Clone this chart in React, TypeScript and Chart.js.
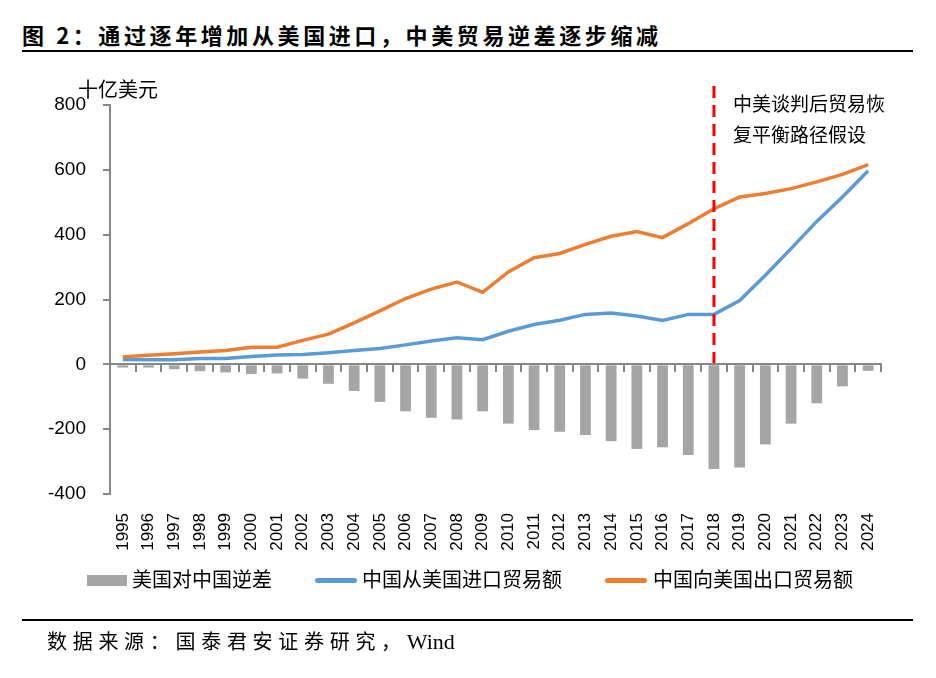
import React, { useEffect, useRef } from "react";
import { Chart, registerables } from "chart.js";

Chart.register(...registerables);

const years = [
  "1995", "1996", "1997", "1998", "1999", "2000", "2001", "2002", "2003", "2004",
  "2005", "2006", "2007", "2008", "2009", "2010", "2011", "2012", "2013", "2014",
  "2015", "2016", "2017", "2018", "2019", "2020", "2021", "2022", "2023", "2024",
];

// 美国对中国逆差 (十亿美元)
const deficit = [
  -10, -10, -15, -21, -25, -30, -28, -44, -60, -82,
  -116, -145, -165, -170, -145, -183, -203, -208, -218, -237,
  -261, -256, -280, -323, -318, -247, -183, -120, -68, -20,
];

// 中国从美国进口贸易额
const imports = [
  15, 14, 14, 18, 18, 24, 29, 30, 36, 43,
  49, 60, 72, 82, 76, 102, 123, 136, 154, 158,
  149, 135, 154, 154, 197, 275, 357, 441, 516, 597,
];

// 中国向美国出口贸易额
const exportsToUS = [
  23, 28, 33, 38, 43, 53, 53, 74, 93, 128,
  165, 203, 232, 254, 222, 285, 329, 342, 370, 395,
  410, 391, 434, 480, 516, 527, 542, 563, 586, 616,
];

const yTicks = { min: -400, max: 800, step: 200 };
const markerYear = "2018";
const annotationLines = ["中美谈判后贸易恢", "复平衡路径假设"];

const AXIS_GREY = "#878787";
const BAR_GREY = "#A5A5A5";
const BLUE = "#5B9BD5";
const ORANGE = "#ED7D31";

const cjk = "'Noto Sans CJK SC', 'Liberation Sans', sans-serif";

export default function App() {
  const ref = useRef<HTMLCanvasElement | null>(null);

  useEffect(() => {
    if (!ref.current) return;

    const markerPlugin = {
      id: "marker",
      afterDatasetsDraw(chart: any) {
        const ctx = chart.ctx;
        const xs = chart.scales.x;
        const ys = chart.scales.y;
        const idx = years.indexOf(markerYear);
        const x = xs.getPixelForValue(idx);
        const y0 = ys.getPixelForValue(0);
        ctx.save();
        ctx.strokeStyle = "#FF0000";
        ctx.lineWidth = 3;
        ctx.setLineDash([12, 7]);
        ctx.beginPath();
        ctx.moveTo(x, chart.chartArea.top - 19);
        ctx.lineTo(x, y0);
        ctx.stroke();
        ctx.setLineDash([]);
        ctx.fillStyle = "#000";
        ctx.font = "19px " + cjk;
        ctx.textAlign = "left";
        ctx.textBaseline = "middle";
        annotationLines.forEach((t, i) => {
          ctx.fillText(t, x + 19, chart.chartArea.top - 1 + i * 31);
        });
        ctx.restore();
      },
    };

    const chart = new Chart(ref.current, {
      type: "bar",
      data: {
        labels: years,
        datasets: [
          {
            type: "line",
            label: "中国向美国出口贸易额",
            data: exportsToUS,
            borderColor: ORANGE,
            backgroundColor: ORANGE,
            borderWidth: 3.5,
            pointRadius: 0,
            tension: 0,
            order: 1,
          } as any,
          {
            type: "line",
            label: "中国从美国进口贸易额",
            data: imports,
            borderColor: BLUE,
            backgroundColor: BLUE,
            borderWidth: 3.5,
            pointRadius: 0,
            tension: 0,
            order: 2,
          } as any,
          {
            type: "bar",
            label: "美国对中国逆差",
            data: deficit,
            backgroundColor: BAR_GREY,
            barPercentage: 0.42,
            categoryPercentage: 1,
            order: 3,
          },
        ],
      },
      options: {
        responsive: false,
        animation: false,
        devicePixelRatio: 1,
        layout: { padding: { left: 0, top: 105, right: 55, bottom: 114 } },
        plugins: { legend: { display: false }, tooltip: { enabled: false } },
        scales: {
          x: {
            type: "category",
            position: "bottom",
            offset: true,
            grid: { display: false, drawTicks: false, offset: true },
            border: { display: false },
            ticks: {
              minRotation: 90,
              maxRotation: 90,
              autoSkip: false,
              padding: 19,
              color: "#000",
              font: { family: "'Liberation Sans', Arial, sans-serif", size: 17 },
            },
            afterFit(scale: any) {
              scale.height = 70;
            },
          },
          x2: {
            type: "category",
            labels: years,
            position: { y: 0 } as any,
            offset: true,
            grid: {
              display: true,
              offset: true,
              drawOnChartArea: false,
              drawTicks: true,
              tickLength: 7,
              color: AXIS_GREY,
              lineWidth: 2,
            },
            border: { display: true, color: AXIS_GREY, width: 2, z: 1 },
            ticks: { display: false },
          } as any,
          y: {
            min: yTicks.min,
            max: yTicks.max,
            position: "left",
            ticks: {
              stepSize: yTicks.step,
              padding: 17,
              color: "#000",
              font: { family: "'Liberation Sans', Arial, sans-serif", size: 19 },
            },
            grid: {
              display: true,
              drawOnChartArea: false,
              drawTicks: true,
              tickLength: 7,
              color: AXIS_GREY,
              lineWidth: 2,
            },
            border: { display: true, color: AXIS_GREY, width: 2 },
            afterFit(scale: any) {
              scale.width = 110;
            },
          },
        },
      },
      plugins: [markerPlugin],
    });
    return () => chart.destroy();
  }, []);

  const legendText: React.CSSProperties = {
    position: "absolute",
    top: 566,
    fontFamily: cjk,
    fontSize: 20,
    lineHeight: "26px",
    color: "#000",
    whiteSpace: "nowrap",
  };

  return (
    <div
      style={{
        position: "fixed",
        left: 0,
        top: 0,
        width: 936,
        height: 678,
        background: "#fff",
        overflow: "hidden",
      }}
    >
      <div
        style={{
          position: "absolute",
          left: 22,
          top: 19,
          fontFamily: cjk,
          fontWeight: 700,
          fontSize: 22,
          letterSpacing: 3.6,
          lineHeight: "30px",
          whiteSpace: "nowrap",
          color: "#000",
        }}
      >
        图 2：通过逐年增加从美国进口，中美贸易逆差逐步缩减
      </div>
      <div style={{ position: "absolute", left: 22, top: 50, width: 891, height: 1.5, background: "#000" }} />
      <canvas
        ref={ref}
        width={936}
        height={678}
        style={{ position: "absolute", left: 0, top: 0, width: 936, height: 678 }}
      />
      <div
        style={{
          position: "absolute",
          left: 78,
          top: 76,
          fontFamily: cjk,
          fontSize: 20,
          lineHeight: "26px",
          whiteSpace: "nowrap",
          color: "#000",
        }}
      >
        十亿美元
      </div>
      {/* legend */}
      <div style={{ position: "absolute", left: 87, top: 575, width: 40, height: 11, background: BAR_GREY }} />
      <div style={{ ...legendText, left: 132 }}>美国对中国逆差</div>
      <div style={{ position: "absolute", left: 315, top: 578, width: 42, height: 4.5, borderRadius: 3, background: BLUE }} />
      <div style={{ ...legendText, left: 362 }}>中国从美国进口贸易额</div>
      <div style={{ position: "absolute", left: 605, top: 578, width: 42, height: 4.5, borderRadius: 3, background: ORANGE }} />
      <div style={{ ...legendText, left: 653 }}>中国向美国出口贸易额</div>
      <div style={{ position: "absolute", left: 22, top: 619, width: 891, height: 1.5, background: "#000" }} />
      <div
        style={{
          position: "absolute",
          left: 47,
          top: 627,
          fontSize: 20,
          lineHeight: "28px",
          whiteSpace: "nowrap",
          color: "#000",
        }}
      >
        <span style={{ fontFamily: "'Noto Sans CJK SC', serif", letterSpacing: 5.7 }}>
          数据来源：国泰君安证券研究，
        </span>
        <span style={{ fontFamily: "'Liberation Serif', 'Times New Roman', serif", fontSize: 22 }}>Wind</span>
      </div>
    </div>
  );
}
